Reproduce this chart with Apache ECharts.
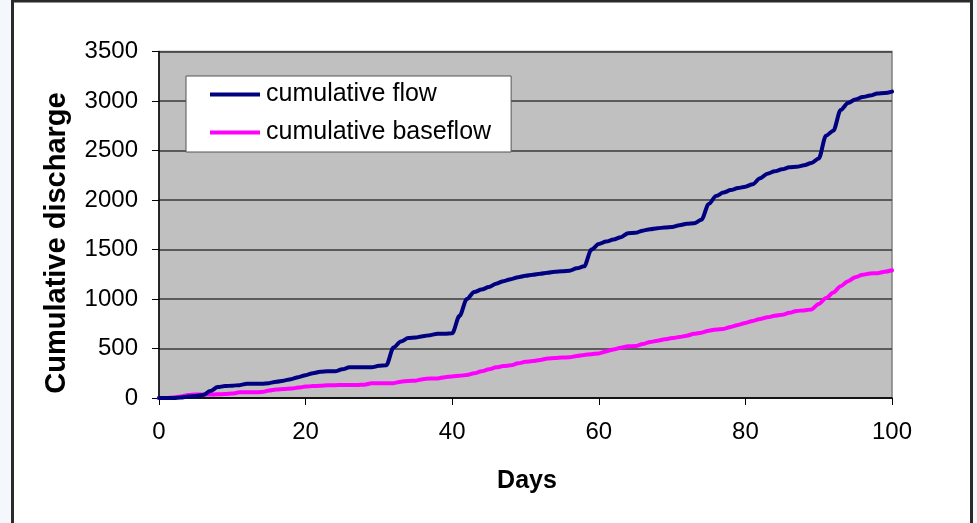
<!DOCTYPE html>
<html>
<head>
<meta charset="utf-8">
<script src="https://cdn.jsdelivr.net/npm/echarts@6/dist/echarts.min.js"></script>
<style>
html,body{margin:0;padding:0;background:#f4f7fb;}
#chart{width:977px;height:523px;}
</style>
</head>
<body>
<div id="chart"></div>
<script>
// Day numbers 0..100
var days = [];
for (var d = 0; d <= 100; d++) days.push(d);

var flowValues = [
  0, 0, 0, 5, 15, 20, 30, 70, 110, 120,
  125, 130, 145, 145, 145, 150, 165, 175, 190, 210,
  230, 250, 265, 270, 270, 290, 310, 310, 310, 310,
  325, 330, 510, 570, 605, 610, 625, 635, 650, 650,
  655, 830, 1000, 1070, 1095, 1120, 1155, 1180, 1200, 1220,
  1235, 1245, 1255, 1265, 1275, 1280, 1285, 1310, 1330, 1500,
  1555, 1580, 1600, 1625, 1665, 1668, 1690, 1705, 1715, 1722,
  1728, 1745, 1760, 1765, 1800, 1960, 2040, 2075, 2100, 2120,
  2135, 2160, 2220, 2265, 2290, 2310, 2330, 2335, 2350, 2375,
  2420, 2650, 2700, 2910, 2980, 3015, 3040, 3055, 3075, 3080,
  3095
];

var baseflowValues = [
  0, 0, 5, 15, 30, 35, 35, 35, 38, 40,
  45, 57, 57, 57, 60, 75, 85, 90, 95, 105,
  115, 120, 123, 128, 130, 131, 131, 131, 135, 148,
  148, 148, 150, 165, 172, 175, 190, 198, 198, 210,
  218, 225, 232, 250, 270, 290, 310, 322, 330, 350,
  365, 373, 385, 398, 403, 408, 412, 425, 435, 442,
  450, 470, 490, 508, 522, 525, 545, 566, 578, 593,
  605, 615, 630, 648, 660, 680, 693, 698, 718, 738,
  758, 778, 798, 815, 830, 840, 860, 880, 885, 895,
  950, 1010, 1065, 1130, 1180, 1220, 1245, 1258, 1260, 1275,
  1290
];

var seriesNames = ['cumulative flow', 'cumulative baseflow'];
var xTicks = [0, 20, 40, 60, 80, 100];
var yTicks = [0, 500, 1000, 1500, 2000, 2500, 3000, 3500];

function pairs(vals) {
  return days.map(function (d, i) { return [d, vals[i]]; });
}

var chart = echarts.init(document.getElementById('chart'), null, {renderer: 'canvas'});
var font = 'Liberation Sans, Arial, sans-serif';

var option = {
  backgroundColor: 'transparent',
  animation: false,
  textStyle: {fontFamily: font},
  graphic: [
    {
      type: 'rect', z: -10, silent: true,
      shape: {x: 12.5, y: 1, width: 959, height: 540},
      style: {fill: '#ffffff', stroke: '#2a2a2a', lineWidth: 3}
    },
    {
      type: 'text', z: 10, silent: true,
      x: 57, y: 243, rotation: Math.PI / 2,
      style: {
        text: 'Cumulative discharge', fill: '#000',
        font: 'bold 29px ' + font,
        align: 'center', verticalAlign: 'middle'
      }
    },
    {
      type: 'text', z: 10, silent: true,
      x: 527, y: 481,
      style: {
        text: 'Days', fill: '#000',
        font: 'bold 25px ' + font,
        align: 'center', verticalAlign: 'middle'
      }
    }
  ],
  grid: {
    left: 159, top: 51.5, width: 733, height: 346.5,
    show: true, backgroundColor: '#c0c0c0',
    borderColor: '#808080', borderWidth: 1.5,
    containLabel: false
  },
  legend: {
    orient: 'vertical',
    left: 186, top: 76,
    padding: [6, 20, 7, 24],
    itemGap: 13,
    itemWidth: 50, itemHeight: 4,
    icon: 'rect',
    backgroundColor: '#ffffff',
    borderColor: '#555555', borderWidth: 1,
    borderRadius: 0,
    textStyle: {fontSize: 25, color: '#000', fontFamily: font, padding: [0, 0, 0, 1]},
    data: seriesNames
  },
  xAxis: {
    type: 'value', min: 0, max: 100, interval: 20,
    axisLine: {show: true, onZero: false, lineStyle: {color: '#000', width: 1.5}},
    axisTick: {show: true, inside: false, length: 7, lineStyle: {color: '#000', width: 1}},
    axisLabel: {fontSize: 24, color: '#000', margin: 22, fontFamily: font,
      formatter: function (v) { return String(v); }},
    splitLine: {show: false}
  },
  yAxis: {
    type: 'value', min: 0, max: 3500, interval: 500,
    axisLine: {show: true, lineStyle: {color: '#000', width: 1.5}},
    axisTick: {show: true, inside: false, length: 7, lineStyle: {color: '#000', width: 1}},
    axisLabel: {fontSize: 24, color: '#000', margin: 21, fontFamily: font,
      formatter: function (v) { return String(v); }},
    splitLine: {show: true, lineStyle: {color: '#3a3a3a', width: 1.5}}
  },
  series: [
    {
      name: seriesNames[0], type: 'line', data: pairs(flowValues),
      showSymbol: false, symbol: 'none', smooth: 0.3, smoothMonotone: 'x',
      lineStyle: {color: '#000080', width: 4, join: 'round', cap: 'round'},
      itemStyle: {color: '#000080'}, z: 3
    },
    {
      name: seriesNames[1], type: 'line', data: pairs(baseflowValues),
      showSymbol: false, symbol: 'none', smooth: 0.3, smoothMonotone: 'x',
      lineStyle: {color: '#ff00ff', width: 4, join: 'round', cap: 'round'},
      itemStyle: {color: '#ff00ff'}, z: 2
    }
  ]
};
chart.setOption(option);
</script>
</body>
</html>
